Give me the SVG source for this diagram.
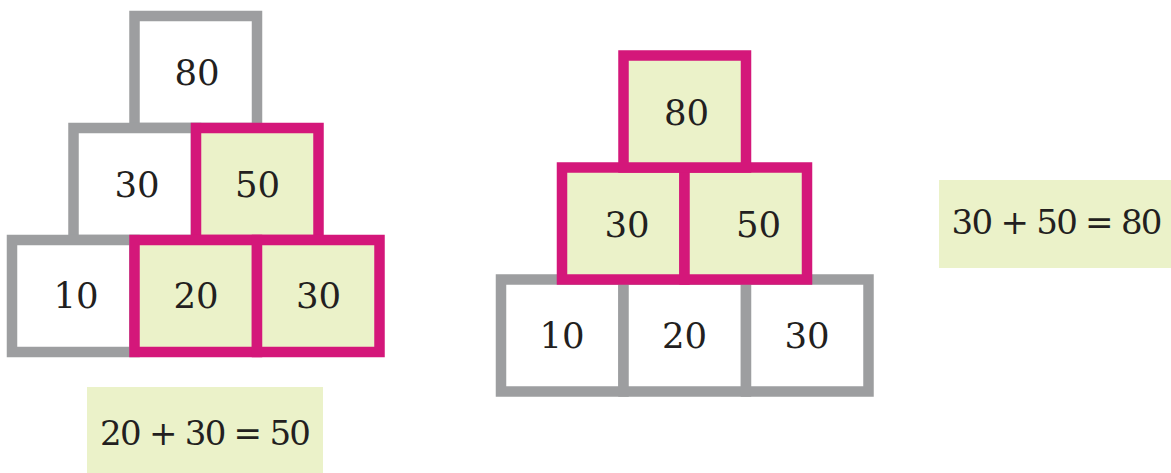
<svg xmlns="http://www.w3.org/2000/svg" width="1171" height="473" viewBox="0 0 1171 473">
<style>
.g{fill:#ffffff;stroke:#9d9ea0;stroke-width:10.5}
.m{fill:#ebf2c9;stroke:#d4177a;stroke-width:10.5}
.t{font-family:"DejaVu Serif","Liberation Serif",serif;font-size:35.5px;fill:#231f20;text-anchor:middle}
.e{font-family:"DejaVu Serif","Liberation Serif",serif;font-size:34px;fill:#231f20;text-anchor:middle}
.eq{fill:#ebf2c9}
</style>
<rect width="1171" height="473" fill="#ffffff"/>
<!-- left pyramid -->
<g id="L80"><rect class="g" x="134.5" y="16" width="122.5" height="112"/><text class="t" x="197" y="85">80</text></g>
<g id="L30a"><rect class="g" x="73.5" y="128" width="122.5" height="112"/><text class="t" x="137" y="197">30</text></g>
<g id="L10"><rect class="g" x="12" y="240" width="122.5" height="112"/><text class="t" x="76" y="308">10</text></g>
<g id="L50"><rect class="m" x="196" y="128" width="122.5" height="112"/><text class="t" x="257.5" y="197">50</text></g>
<g id="L20"><rect class="m" x="134.5" y="240" width="122.5" height="112"/><text class="t" x="196" y="308">20</text></g>
<g id="L30b"><rect class="m" x="257" y="240" width="122.5" height="112"/><text class="t" x="318.5" y="308">30</text></g>
<g id="eq1"><rect class="eq" x="87" y="387" width="236" height="86"/><text class="e" x="205.5" y="445" textLength="211">20 + 30 = 50</text></g>
<!-- right pyramid -->
<g id="R10"><rect class="g" x="501" y="279.5" width="122.5" height="112"/><text class="t" x="562" y="348">10</text></g>
<g id="R20"><rect class="g" x="623.5" y="279.5" width="122.5" height="112"/><text class="t" x="684.5" y="348">20</text></g>
<g id="R30b"><rect class="g" x="746" y="279.5" width="122.5" height="112"/><text class="t" x="807" y="348">30</text></g>
<g id="R30a"><rect class="m" x="562" y="167.5" width="122.5" height="112"/><text class="t" x="627" y="237">30</text></g>
<g id="R50"><rect class="m" x="684.5" y="167.5" width="122.5" height="112"/><text class="t" x="758.5" y="237">50</text></g>
<g id="R80"><rect class="m" x="623.5" y="55.5" width="122.5" height="112"/><text class="t" x="686.5" y="125">80</text></g>
<g id="eq2"><rect class="eq" x="939" y="180" width="232" height="88"/><text class="e" x="1057" y="234" textLength="211">30 + 50 = 80</text></g>
</svg>
